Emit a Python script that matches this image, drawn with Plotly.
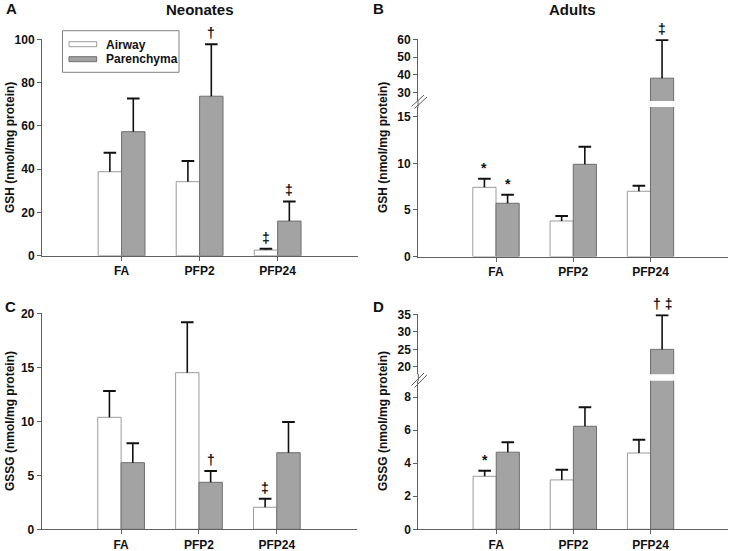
import numpy as np
import plotly.graph_objects as go

W, H = 730, 551

categories = ["FA", "PFP2", "PFP24"]

# Panel A: Neonates GSH
a_air = [38.8, 34.2, 2.6]
a_air_err = [8.8, 9.6, 0.6]
a_par = [57.3, 73.7, 16.0]
a_par_err = [15.4, 24.0, 9.1]
a_air_marks = ["", "", "‡"]
a_par_marks = ["", "†", "‡"]

# Panel B: Adults GSH
b_air = [7.42, 3.81, 7.0]
b_air_err = [0.93, 0.54, 0.6]
b_par = [5.71, 9.89, 38.2]
b_par_err = [0.92, 1.89, 21.4]
b_air_marks = ["*", "", ""]
b_par_marks = ["*", "", "‡"]

# Panel C: Neonates GSSG
c_air = [10.37, 14.5, 2.04]
c_air_err = [2.43, 4.67, 0.79]
c_par = [6.17, 4.35, 7.09]
c_par_err = [1.79, 1.05, 2.84]
c_air_marks = ["", "", "‡"]
c_par_marks = ["", "†", ""]

# Panel D: Adults GSSG
d_air = [3.21, 2.99, 4.62]
d_air_err = [0.34, 0.62, 0.81]
d_par = [4.67, 6.24, 25.0]
d_par_err = [0.6, 1.15, 9.7]
d_air_marks = ["*", "", ""]
d_par_marks = ["", "", "† ‡"]

series_names = ["Airway", "Parenchyma"]
AIR_FILL, AIR_LINE = "#ffffff", "#9a9a9a"
PAR_FILL, PAR_LINE = "#a3a3a3", "#6e6e6e"
AXIS_COLOR = "#606060"
FONT = "Liberation Sans, Arial, sans-serif"


def px(x):
    return x / W


def py(y):
    return 1 - y / H


fig = go.Figure()
pos = np.arange(len(categories))
BW = 0.3


def add_panel(xa, yas, air, air_err, par, par_err):
    for ya in yas:
        for vals, errs, fill, line, off, name in [
            (air, air_err, AIR_FILL, AIR_LINE, -BW / 2, series_names[0]),
            (par, par_err, PAR_FILL, PAR_LINE, BW / 2, series_names[1]),
        ]:
            xs = pos + off
            fig.add_trace(go.Bar(
                x=xs, y=vals, width=BW, name=name, showlegend=False,
                marker=dict(color=fill, line=dict(color=line, width=1)),
                xaxis=xa, yaxis=ya,
            ))
            tops = np.array(vals) + np.array(errs)
            fig.add_trace(go.Scatter(
                x=xs, y=tops, mode="markers", showlegend=False,
                marker=dict(symbol="line-ew", size=9, color="#111",
                            line=dict(color="#111", width=2)),
                error_y=dict(type="data", symmetric=False,
                             array=[0] * len(vals), arrayminus=errs,
                             width=0, thickness=1.6, color="#111"),
                xaxis=xa, yaxis=ya, hoverinfo="skip",
            ))


def add_marks(xa, ya_for, air, air_err, par, par_err, air_marks, par_marks):
    for vals, errs, marks, off in [(air, air_err, air_marks, -BW / 2),
                                   (par, par_err, par_marks, BW / 2)]:
        for i, m in enumerate(marks):
            if not m:
                continue
            top = vals[i] + errs[i]
            ya = ya_for(top)
            fig.add_annotation(
                x=pos[i] + off, y=top, xref=xa, yref=ya, text=m,
                showarrow=False, yanchor="bottom", yshift=1,
                font=dict(size=14, color="#111", family=FONT, weight="bold"),
            )


add_panel("x", ["y"], a_air, a_air_err, a_par, a_par_err)
add_panel("x2", ["y2", "y3"], b_air, b_air_err, b_par, b_par_err)
add_panel("x3", ["y4"], c_air, c_air_err, c_par, c_par_err)
add_panel("x4", ["y5", "y6"], d_air, d_air_err, d_par, d_par_err)

B_LOW, B_HIGH = [0, 16.04], [25.4, 60]
D_LOW, D_HIGH = [0, 9.0], [17.9, 35]

add_marks("x", lambda v: "y", a_air, a_air_err, a_par, a_par_err, a_air_marks, a_par_marks)
add_marks("x2", lambda v: "y2" if v < B_LOW[1] else "y3",
          b_air, b_air_err, b_par, b_par_err, b_air_marks, b_par_marks)
add_marks("x3", lambda v: "y4", c_air, c_air_err, c_par, c_par_err, c_air_marks, c_par_marks)
add_marks("x4", lambda v: "y5" if v < D_LOW[1] else "y6",
          d_air, d_air_err, d_par, d_par_err, d_air_marks, d_par_marks)

tickfont = dict(size=12, color="#111", family=FONT, weight="bold")


def xaxis(domain, rng, anchor):
    return dict(domain=domain, range=rng, anchor=anchor, showline=True,
                linecolor=AXIS_COLOR, linewidth=1, ticks="outside", ticklen=4,
                tickcolor=AXIS_COLOR, tickvals=list(pos), ticktext=categories,
                tickfont=tickfont, showgrid=False, zeroline=False, fixedrange=True,
                automargin=False)


def yaxis(domain, rng, anchor, dtick):
    return dict(domain=domain, range=rng, anchor=anchor, showline=True,
                linecolor=AXIS_COLOR, linewidth=1, ticks="outside", ticklen=4,
                tickcolor=AXIS_COLOR, dtick=dtick, tickfont=tickfont,
                showgrid=False, zeroline=False, fixedrange=True, automargin=False)


fig.update_layout(
    width=W, height=H, autosize=False,
    margin=dict(l=0, r=0, t=0, b=0, pad=0, autoexpand=False),
    paper_bgcolor="white", plot_bgcolor="white",
    showlegend=False, bargap=0,
    font=dict(family=FONT, color="#111"),
    xaxis=xaxis([px(42), px(358)], [-1.02, 3.03], "y"),
    yaxis=yaxis([py(255.7), py(39.3)], [0, 100], "x", 20),
    xaxis2=xaxis([px(418), px(727.7)], [-1.01, 3.0], "y2"),
    yaxis2=yaxis([py(256.5), py(107)], B_LOW, "x2", 5),
    yaxis3=yaxis([py(101), py(39.3)], B_HIGH, "x2", 10),
    xaxis3=xaxis([px(41.7), px(357)], [-1.02, 3.03], "y4"),
    yaxis4=yaxis([py(529.3), py(313.3)], [0, 20], "x3", 5),
    xaxis4=xaxis([px(418.3), px(727.7)], [-1.01, 3.0], "y5"),
    yaxis5=yaxis([py(529.3), py(380.7)], D_LOW, "x4", 2),
    yaxis6=yaxis([py(374.3), py(314.3)], D_HIGH, "x4", 5),
)
fig.layout.yaxis3.tickvals = [30, 40, 50, 60]
fig.layout.yaxis6.tickvals = [20, 25, 30, 35]

shapes = []
# axis bridges through the breaks
shapes.append(dict(type="line", xref="paper", yref="paper",
                   x0=px(418), x1=px(418), y0=py(107.5), y1=py(100.5),
                   line=dict(color=AXIS_COLOR, width=1)))
shapes.append(dict(type="line", xref="paper", yref="paper",
                   x0=px(418.3), x1=px(418.3), y0=py(381.2), y1=py(373.8),
                   line=dict(color=AXIS_COLOR, width=1)))
# break marks
for (x0, y0, x1, y1) in [(411.5, 106.5, 424, 95), (414.5, 108.5, 427, 97),
                         (411.5, 385.5, 424, 373), (414.5, 387.5, 427, 375)]:
    shapes.append(dict(type="line", xref="paper", yref="paper",
                       x0=px(x0), y0=py(y0), x1=px(x1), y1=py(y1),
                       line=dict(color=AXIS_COLOR, width=1)))
# legend box and swatches (panel A)
shapes.append(dict(type="rect", xref="paper", yref="paper",
                   x0=px(62.5), x1=px(179), y0=py(72.3), y1=py(30.7),
                   line=dict(color="#808080", width=1), fillcolor="white", layer="below"))
shapes.append(dict(type="rect", xref="paper", yref="paper",
                   x0=px(69), x1=px(96.7), y0=py(46.7), y1=py(41.7),
                   line=dict(color=AIR_LINE, width=1), fillcolor=AIR_FILL))
shapes.append(dict(type="rect", xref="paper", yref="paper",
                   x0=px(69), x1=px(96.7), y0=py(61.7), y1=py(56.7),
                   line=dict(color=PAR_LINE, width=1), fillcolor=PAR_FILL))
fig.update_layout(shapes=shapes)

labfont = dict(size=12, color="#111", family=FONT, weight="bold")
for txt, yy in [(series_names[0], 44.5), (series_names[1], 59.3)]:
    fig.add_annotation(x=px(103.5), y=py(yy), xref="paper", yref="paper", text=txt,
                       showarrow=False, xanchor="left", yanchor="middle", font=labfont)

# titles and panel letters
titfont = dict(size=15, color="#111", family=FONT, weight="bold")
for txt, xx, yy in [("Neonates", 200, 10), ("Adults", 572, 10)]:
    fig.add_annotation(x=px(xx), y=py(yy), xref="paper", yref="paper", text=txt,
                       showarrow=False, xanchor="center", yanchor="middle", font=titfont)
for txt, xx, yy in [("A", 11, 9), ("B", 378, 9), ("C", 10, 306), ("D", 378, 306)]:
    fig.add_annotation(x=px(xx), y=py(yy), xref="paper", yref="paper", text=txt,
                       showarrow=False, xanchor="center", yanchor="middle", font=titfont)

# y-axis titles
ytfont = dict(size=12, color="#111", family=FONT, weight="bold")
for txt, xx, yy in [("GSH (nmol/mg protein)", 10, 148), ("GSH (nmol/mg protein)", 383, 148),
                    ("GSSG (nmol/mg protein)", 10, 421), ("GSSG (nmol/mg protein)", 383, 421)]:
    fig.add_annotation(x=px(xx), y=py(yy), xref="paper", yref="paper", text=txt,
                       showarrow=False, textangle=-90, xanchor="center", yanchor="middle",
                       font=ytfont)

fig.write_html(
    "out.html",
    config={"displayModeBar": False, "staticPlot": True},
    post_script="document.body.style.margin='0';document.body.style.overflow='hidden';",
)
